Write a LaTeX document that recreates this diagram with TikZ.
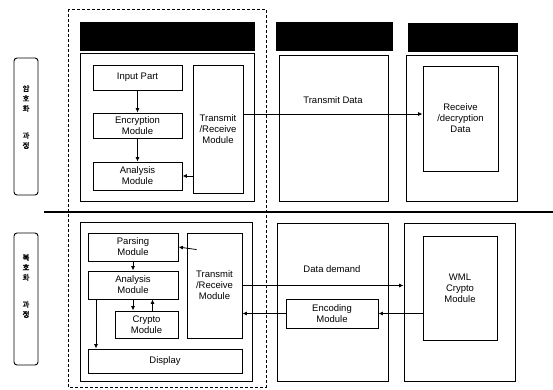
\documentclass[tikz,border=0pt]{standalone}
\usepackage{fontspec}
\setmainfont{Liberation Sans}
\newfontfamily\krfont[AutoFakeBold=2]{Noto Sans CJK KR}
\usetikzlibrary{arrows.meta, positioning, calc}

\begin{document}
\begin{tikzpicture}[
    x=1pt, y=-1pt,
    font=\fontsize{9.5}{11}\selectfont,
    hdr/.style={rectangle, draw=black, fill=black, inner sep=0pt},
    panel/.style={rectangle, draw=black, line width=0.9pt, inner sep=0pt},
    blk/.style={rectangle, draw=black, line width=0.9pt, align=center, inner sep=0pt},
    side/.style={rectangle, draw=black, line width=0.9pt, rounded corners=3pt, minimum width=24pt, inner sep=0pt},
    sidetxt/.style={font=\krfont\bfseries\fontsize{7.5}{10}\selectfont, align=center, inner sep=0pt},
    arrow/.style={-{Latex[length=4.5pt,width=4pt]}, line width=0.8pt}
]
    \useasboundingbox (0,0) rectangle (553,389);

    % dashed frame of the mobile side
    \draw [dashed, line width=0.9pt, dash pattern=on 3pt off 2pt] (68,9) rectangle (266,387);

    % column headers
    \node (hdr1) [hdr, minimum width=174pt, minimum height=28pt] at (167,36) {};
    \node (hdr2) [hdr, minimum width=116pt, minimum height=28pt] at (334,36) {};
    \node (hdr3) [hdr, minimum width=109pt, minimum height=28pt] at (462.5,37) {};

    % side labels
    \node (sideT) [side, minimum height=137pt] at (26,126.5) {};
    \node (sideTtxt) [sidetxt] at (26,117) {암\\호\\화\\[17pt]과\\정};
    \node (sideB) [side, minimum height=132pt] at (26,299) {};
    \node (sideBtxt) [sidetxt] at (26,286) {복\\호\\화\\[17pt]과\\정};

    % upper panels
    \node (p1) [panel, minimum width=174pt, minimum height=148pt] at (167,127) {};
    \node (p2) [panel, minimum width=109pt, minimum height=146pt] at (333.5,128) {};
    \node (p3) [panel, minimum width=111pt, minimum height=146pt] at (461.5,128) {};

    % separator
    \coordinate (sepL) at (44,212);
    \coordinate (sepR) at (553,212);
    \draw [line width=2.2pt] (sepL) -- (sepR);

    % lower panels
    \node (q1) [panel, minimum width=172pt, minimum height=159pt] at (166,301.5) {};
    \node (q2) [panel, minimum width=111pt, minimum height=158pt] at (332.5,302) {};
    \node (q3) [panel, minimum width=111pt, minimum height=158pt] at (459.5,302) {};

    % encryption process
    \node (input) [blk, minimum width=89pt, minimum height=25pt] at (137.5,77.5) {Input Part};
    \node (encrypt) [blk, minimum width=89pt, minimum height=25pt] at (137.5,125.5) {Encryption\\Module};
    \node (anaT) [blk, minimum width=89pt, minimum height=28pt] at (137.5,176) {Analysis\\Module};
    \node (trxT) [blk, minimum width=50pt, minimum height=128pt] at (218,129) {Transmit\\/Receive\\Module};
    \node (txdata) at (333,100) {Transmit Data};
    \node (recv) [blk, minimum width=75pt, minimum height=105pt] at (460.5,118.5) {Receive\\/decryption\\Data};

    \draw [arrow] (input) -- (encrypt);
    \draw [arrow] (encrypt) -- (anaT);
    \draw [arrow] (trxT.west |- anaT.east) -- (anaT.east);
    \draw [arrow] ([yshift=15pt]trxT.east) -- ([yshift=15pt]trxT.east -| recv.west);

    % decryption process
    \node (parse) [blk, minimum width=90pt, minimum height=28pt] at (133,247) {Parsing\\Module};
    \node (anaB) [blk, minimum width=90pt, minimum height=28pt] at (133,285) {Analysis\\Module};
    \node (crypto) [blk, minimum width=63pt, minimum height=27pt] at (146.5,324.5) {Crypto\\Module};
    \node (trxB) [blk, minimum width=55pt, minimum height=105pt] at (214.5,285.5) {Transmit\\/Receive\\Module};
    \node (display) [blk, minimum width=154pt, minimum height=24pt] at (165,361) {Display};
    \node (demand) at (332,269) {Data demand};
    \node (enc) [blk, minimum width=92pt, minimum height=29pt] at (332,313.5) {Encoding\\Module};
    \node (wml) [blk, minimum width=74pt, minimum height=104pt] at (460,288) {WML\\Crypto\\Module};

    \draw [arrow] ($(trxB.north west)+(10,17)$) -- (parse.east);
    \draw [arrow] (parse) -- (anaB);
    \draw [arrow] (anaB.south) -- (anaB.south |- crypto.north);
    \draw [arrow] ([xshift=6pt]crypto.north) -- ([xshift=6pt]crypto.north |- anaB.south);
    \draw [arrow] ([xshift=-37pt]anaB.south) -- ([xshift=-37pt]anaB.south |- display.north);
    \draw [arrow] (trxB.east) -- (trxB.east -| q3.west);
    \draw [arrow] (wml.west |- enc.east) -- (enc.east);
    \draw [arrow] (enc.west) -- (enc.west -| trxB.east);
\end{tikzpicture}
\end{document}
